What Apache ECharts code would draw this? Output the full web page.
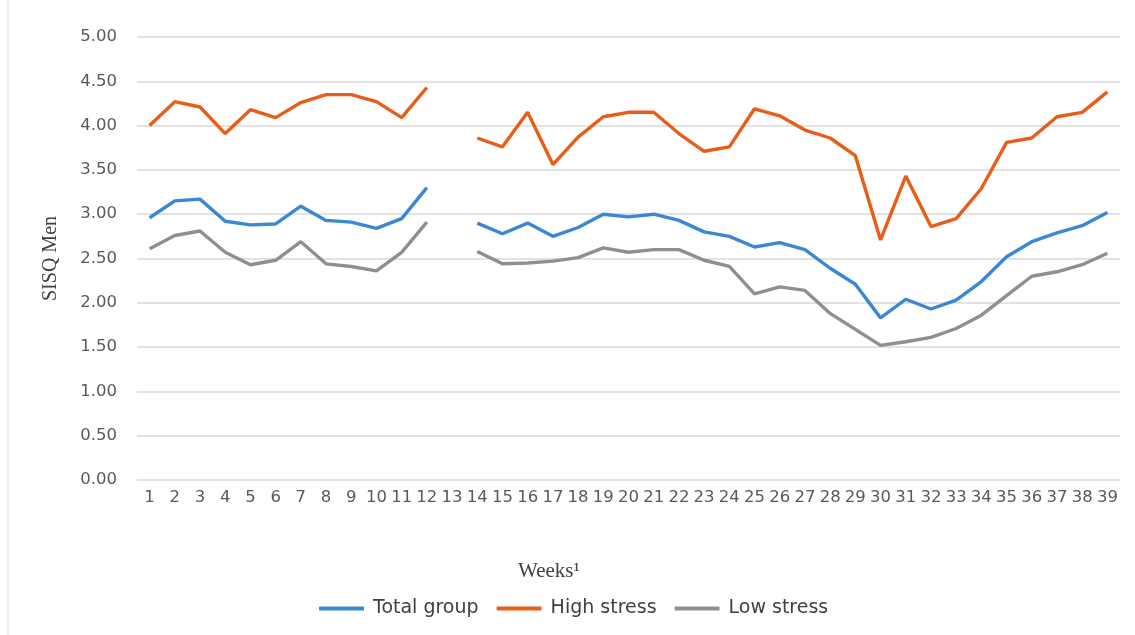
<!DOCTYPE html>
<html>
<head>
<meta charset="utf-8">
<script src="https://cdn.jsdelivr.net/npm/echarts@6/dist/echarts.min.js"></script>
<style>html,body{margin:0;padding:0;background:#fff}#c{width:1135px;height:635px}</style>
</head>
<body>
<div id="c"></div>
<script>
const weeks = ['1','2','3','4','5','6','7','8','9','10','11','12','13','14','15','16','17','18','19','20','21','22','23','24','25','26','27','28','29','30','31','32','33','34','35','36','37','38','39'];
const totalGroup = [2.96,3.15,3.17,2.92,2.88,2.89,3.09,2.93,2.91,2.84,2.95,3.30,null,2.90,2.78,2.90,2.75,2.85,3.00,2.97,3.00,2.93,2.80,2.75,2.63,2.68,2.60,2.39,2.21,1.83,2.04,1.93,2.03,2.24,2.52,2.69,2.79,2.87,3.02];
const highStress = [4.00,4.27,4.21,3.91,4.18,4.09,4.26,4.35,4.35,4.27,4.09,4.43,null,3.86,3.76,4.15,3.56,3.87,4.10,4.15,4.15,3.91,3.71,3.76,4.19,4.11,3.95,3.86,3.66,2.71,3.43,2.86,2.95,3.29,3.81,3.86,4.10,4.15,4.38];
const lowStress = [2.61,2.76,2.81,2.57,2.43,2.48,2.69,2.44,2.41,2.36,2.57,2.91,null,2.58,2.44,2.45,2.47,2.51,2.62,2.57,2.60,2.60,2.48,2.41,2.10,2.18,2.14,1.88,1.70,1.52,1.56,1.61,1.71,1.86,2.08,2.30,2.35,2.43,2.56];
const seriesNames = ['Total group','High stress','Low stress'];
const colors = ['#3A87D4','#E85D17','#8F8F8F'];

const chart = echarts.init(document.getElementById('c'));
const mk = (name, data, color) => ({
  name, type:'line', data, connectNulls:false, showSymbol:false, symbol:'none',
  lineStyle:{color, width:3.4}, itemStyle:{color}, smooth:false
});
chart.setOption({
  animation:false,
  color: colors,
  grid:{left:137, right:15, top:37, bottom:155, containLabel:false},
  xAxis:{
    type:'category', data:weeks, boundaryGap:true,
    axisLine:{show:false}, axisTick:{show:false},
    axisLabel:{color:'#595959', fontSize:16.5, fontFamily:'DejaVu Sans', margin:9, interval:0}
  },
  yAxis:{
    type:'value', min:0, max:5, interval:0.5,
    name:'SISQ Men', nameLocation:'middle', nameGap:76,
    nameTextStyle:{color:'#404040', fontSize:20, fontFamily:'Liberation Serif, Times New Roman'},
    axisLine:{show:false}, axisTick:{show:false},
    axisLabel:{color:'#595959', fontSize:16.5, fontFamily:'DejaVu Sans', margin:20,
      formatter: v => v.toFixed(2)},
    splitLine:{lineStyle:{color:'#D9D9D9', width:1.5}}
  },
  legend:{
    data:seriesNames, left:314, top:594, itemWidth:45, itemHeight:4, itemGap:18,
    icon:'roundRect',
    textStyle:{color:'#404040', fontSize:19, fontFamily:'DejaVu Sans', padding:[0,0,0,4]}
  },
  graphic:[
    {type:'text', left:518, top:561, style:{text:'Weeks¹', fill:'#404040', font:'21px "Liberation Serif", "Times New Roman"'}},
    {type:'line', shape:{x1:8, y1:0, x2:8, y2:635}, style:{stroke:'#E3E3E3', lineWidth:1}}
  ],
  series:[
    mk(seriesNames[0], totalGroup, colors[0]),
    mk(seriesNames[1], highStress, colors[1]),
    mk(seriesNames[2], lowStress, colors[2])
  ]
});
</script>
</body>
</html>
